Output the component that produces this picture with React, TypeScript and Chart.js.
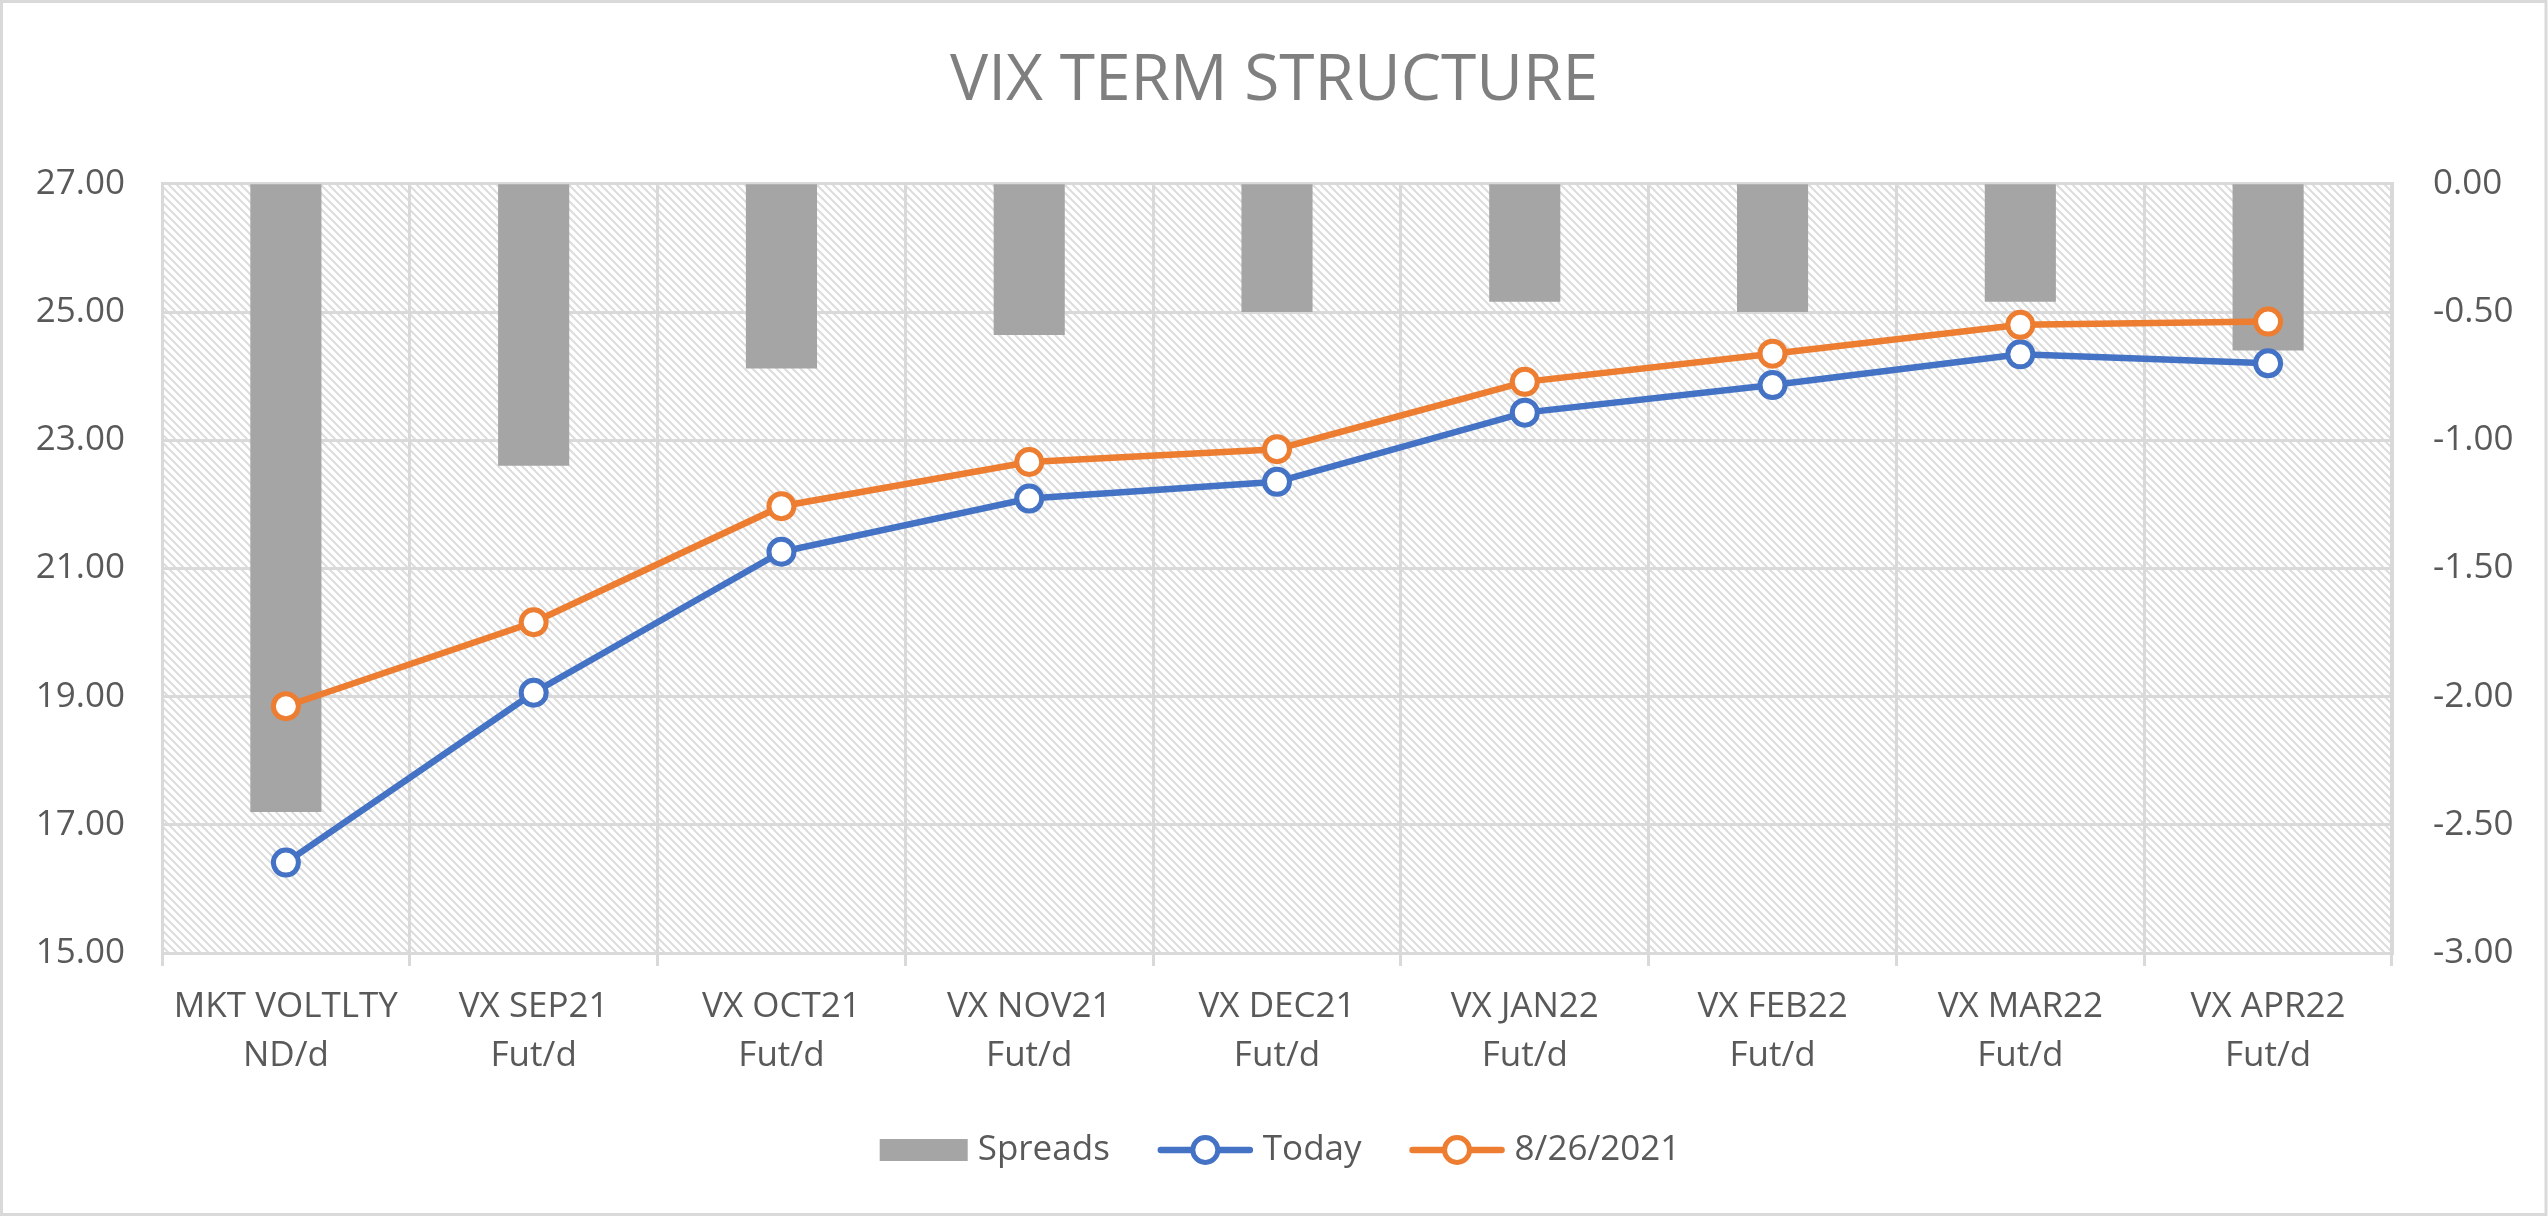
import React, { useEffect, useRef } from 'react';
import { Chart, registerables } from 'chart.js';

Chart.register(...registerables);

// ---- data ----
const categories: string[][] = [
  ['MKT VOLTLTY', 'ND/d'],
  ['VX SEP21', 'Fut/d'],
  ['VX OCT21', 'Fut/d'],
  ['VX NOV21', 'Fut/d'],
  ['VX DEC21', 'Fut/d'],
  ['VX JAN22', 'Fut/d'],
  ['VX FEB22', 'Fut/d'],
  ['VX MAR22', 'Fut/d'],
  ['VX APR22', 'Fut/d'],
];
const todayValues: number[] = [16.41, 19.06, 21.26, 22.09, 22.35, 23.43, 23.86, 24.34, 24.2];
const priorValues: number[] = [18.85, 20.16, 21.97, 22.66, 22.86, 23.91, 24.35, 24.8, 24.85];
const spreadValues: number[] = [-2.45, -1.1, -0.72, -0.59, -0.5, -0.46, -0.5, -0.46, -0.65];
const seriesNames: string[] = ['Spreads', 'Today', '8/26/2021'];
const chartTitle = 'VIX TERM STRUCTURE';
const leftAxisRange: number[] = [15, 27, 2];
const rightAxisRange: number[] = [-3, 0, 0.5];

// ---- styles ----
const FONT = "'Open Sans', 'DejaVu Sans', sans-serif";
const TEXT = '#595959';
const GRID = '#d9d9d9';
const BLUE = '#4472c4';
const ORANGE = '#ed7d31';
const BAR = '#a5a5a5';

function makeHatch(): CanvasPattern | string {
  const c = document.createElement('canvas');
  c.width = 8;
  c.height = 8;
  const g = c.getContext('2d');
  if (!g) return '#f2f2f2';
  g.fillStyle = '#ffffff';
  g.fillRect(0, 0, 8, 8);
  g.strokeStyle = '#dcdcdc';
  g.lineWidth = 2;
  for (const k of [-8, 0, 8]) {
    g.beginPath();
    g.moveTo(k - 1, -1);
    g.lineTo(k + 9, 9);
    g.stroke();
  }
  const p = g.createPattern(c, 'repeat');
  return p || '#f2f2f2';
}

const backgroundPlugin = {
  id: 'bgHatch',
  beforeDraw(chart: any) {
    const { ctx, chartArea, width, height } = chart;
    ctx.save();
    ctx.fillStyle = '#ffffff';
    ctx.fillRect(0, 0, width, height);
    ctx.fillStyle = makeHatch();
    ctx.fillRect(chartArea.left, chartArea.top, chartArea.right - chartArea.left, chartArea.bottom - chartArea.top);
    ctx.strokeStyle = GRID;
    ctx.lineWidth = 3;
    ctx.strokeRect(1.5, 1.5, width - 3.5, height - 4);
    ctx.restore();
  },
};

const legendPlugin = {
  id: 'customLegend',
  afterDraw(chart: any) {
    const { ctx } = chart;
    const datasets = chart.data.datasets;
    ctx.save();
    ctx.font = `35px ${FONT}`;
    const sampleW = (ds: any) => (ds.type === 'bar' ? 88 : 95);
    const gapSample = 10;
    const gapItem = 48;
    const items = datasets.map((ds: any) => ({
      ds,
      sw: sampleW(ds),
      tw: ctx.measureText(ds.label).width,
    }));
    const total = items.reduce((a: number, it: any) => a + it.sw + gapSample + it.tw, 0) + gapItem * (items.length - 1);
    let x = chart.width / 2 - total / 2 + 6;
    const y = chart.height - 67;
    ctx.textBaseline = 'middle';
    ctx.textAlign = 'left';
    for (const it of items) {
      const ds = it.ds;
      if (ds.type === 'bar') {
        ctx.fillStyle = ds.backgroundColor;
        ctx.fillRect(x, y - 11, it.sw, 22);
      } else {
        ctx.strokeStyle = ds.borderColor;
        ctx.lineWidth = ds.borderWidth;
        ctx.lineCap = 'round';
        ctx.beginPath();
        ctx.moveTo(x + 3, y);
        ctx.lineTo(x + it.sw - 3, y);
        ctx.stroke();
        ctx.beginPath();
        ctx.arc(x + it.sw / 2, y, ds.pointRadius, 0, Math.PI * 2);
        ctx.fillStyle = '#ffffff';
        ctx.fill();
        ctx.lineWidth = ds.pointBorderWidth;
        ctx.stroke();
      }
      ctx.fillStyle = TEXT;
      ctx.fillText(ds.label, x + it.sw + gapSample, y);
      x += it.sw + gapSample + it.tw + gapItem;
    }
    ctx.restore();
  },
};

export default function App() {
  const ref = useRef<HTMLCanvasElement>(null);

  useEffect(() => {
    document.body.style.margin = '0';
    document.body.style.overflow = 'hidden';
    const canvas = ref.current;
    if (!canvas) return;
    const tickFont = { family: FONT, size: 35, lineHeight: 1.2 };
    const chart = new Chart(canvas, {
      type: 'bar',
      data: {
        labels: categories,
        datasets: [
          {
            type: 'bar',
            label: seriesNames[0],
            data: spreadValues,
            yAxisID: 'y1',
            backgroundColor: BAR,
            barPercentage: 0.287,
            categoryPercentage: 1,
            order: 2,
          } as any,
          {
            type: 'line',
            label: seriesNames[1],
            data: todayValues,
            yAxisID: 'y',
            borderColor: BLUE,
            borderWidth: 6.5,
            pointRadius: 12.5,
            pointHoverRadius: 12.5,
            pointBorderWidth: 5,
            pointBackgroundColor: '#ffffff',
            pointBorderColor: BLUE,
            tension: 0,
            order: 1,
          } as any,
          {
            type: 'line',
            label: seriesNames[2],
            data: priorValues,
            yAxisID: 'y',
            borderColor: ORANGE,
            borderWidth: 6.5,
            pointRadius: 12.5,
            pointHoverRadius: 12.5,
            pointBorderWidth: 5,
            pointBackgroundColor: '#ffffff',
            pointBorderColor: ORANGE,
            tension: 0,
            order: 0,
          } as any,
        ],
      },
      options: {
        animation: false,
        responsive: false,
        devicePixelRatio: 1,
        layout: { padding: { left: 0, right: 0, top: 0, bottom: 136 } },
        plugins: {
          legend: { display: false },
          tooltip: { enabled: false },
          title: {
            display: true,
            text: chartTitle,
            color: '#7f7f7f',
            font: { family: FONT, size: 64, weight: 'normal', lineHeight: 1.2 },
            padding: { top: 43, bottom: 64 },
          },
        },
        scales: {
          x: {
            type: 'category',
            offset: true,
            grid: { offset: true, color: GRID, lineWidth: 3, drawTicks: true, tickLength: 13 },
            border: { color: GRID, width: 3 },
            ticks: {
              color: TEXT,
              font: { family: FONT, size: 35, lineHeight: 1.4 },
              padding: 17,
              maxRotation: 0,
              minRotation: 0,
              autoSkip: false,
            },
            afterFit: (s: any) => {
              s.height = 128;
            },
          },
          y: {
            type: 'linear',
            position: 'left',
            min: leftAxisRange[0],
            max: leftAxisRange[1],
            grid: { color: GRID, lineWidth: 3, drawTicks: false },
            border: { color: GRID, width: 3 },
            ticks: {
              stepSize: leftAxisRange[2],
              color: TEXT,
              font: tickFont,
              padding: 37,
              callback: (v: any) => Number(v).toFixed(2),
            },
            afterFit: (s: any) => {
              s.width = 162;
            },
          },
          y1: {
            type: 'linear',
            position: 'right',
            min: rightAxisRange[0],
            max: rightAxisRange[1],
            grid: { drawOnChartArea: false, drawTicks: false },
            border: { color: GRID, width: 3 },
            ticks: {
              stepSize: rightAxisRange[2],
              color: TEXT,
              font: tickFont,
              padding: 41,
              callback: (v: any) => Number(v).toFixed(2),
            },
            afterFit: (s: any) => {
              s.width = 156;
            },
          },
        },
      } as any,
      plugins: [backgroundPlugin, legendPlugin],
    });
    return () => chart.destroy();
  }, []);

  return (
    <div style={{ position: 'fixed', left: 0, top: 0, width: 2548, height: 1217, background: '#ffffff' }}>
      <canvas ref={ref} width={2548} height={1217} style={{ display: 'block', width: 2548, height: 1217 }} />
    </div>
  );
}
